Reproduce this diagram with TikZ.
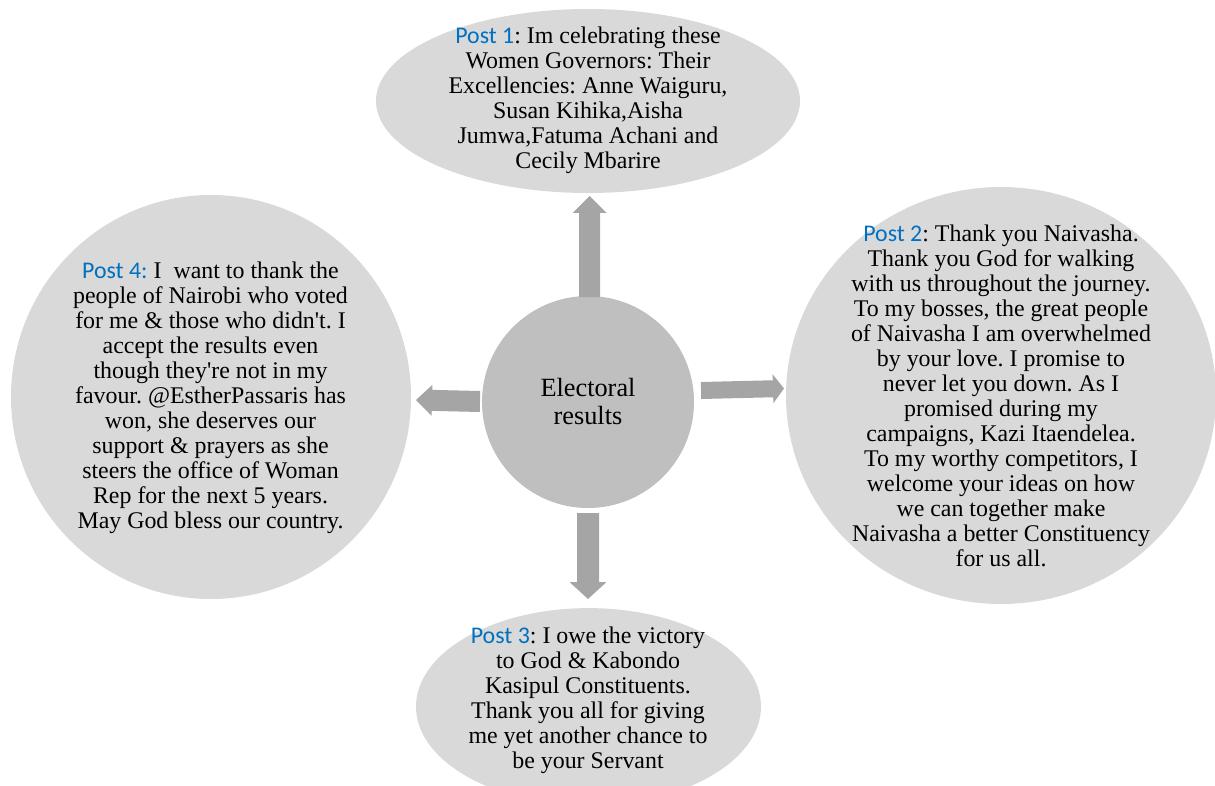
\documentclass[tikz,border=0pt]{standalone}
\usepackage{fontspec}
\setmainfont{Liberation Serif}
\newfontfamily\postfont{Carlito}
\usetikzlibrary{calc,shapes.geometric}
\frenchspacing

\definecolor{ovalgray}{HTML}{D9D9D9}
\definecolor{hubgray}{HTML}{BFBFBF}
\definecolor{arrowgray}{HTML}{A5A5A5}
\definecolor{postblue}{HTML}{0070C0}

% blue "Post n" heading inside a bubble
\newcommand\posthead[1]{{\postfont\color{postblue}#1}}

% block arrow from #1 to its tip #2; shaft width #3, head width #4, head length #5 (pt)
\newcommand\blockarrow[5]{%
  \fill[arrowgray] let \p1=(#1), \p2=(#2),
      \n1={atan2(\y2-\y1,\x2-\x1)}, \n2={veclen(\x2-\x1,\y2-\y1)} in
    ($(\p1)+({\n1+90}:{#3*0.5pt})$)
    -- ($(\p1)+(\n1:{\n2*1pt-#5*1pt})+({\n1+90}:{#3*0.5pt})$)
    -- ($(\p1)+(\n1:{\n2*1pt-#5*1pt})+({\n1+90}:{#4*0.5pt})$)
    -- (\p2)
    -- ($(\p1)+(\n1:{\n2*1pt-#5*1pt})+({\n1-90}:{#4*0.5pt})$)
    -- ($(\p1)+(\n1:{\n2*1pt-#5*1pt})+({\n1-90}:{#3*0.5pt})$)
    -- ($(\p1)+({\n1-90}:{#3*0.5pt})$)
    -- cycle;}

\tikzset{
  bubble/.style={ellipse, fill=ovalgray, inner sep=0pt},
  hub/.style={circle, fill=hubgray, inner sep=0pt, minimum size=212pt},
  bubbletext/.style={align=center, inner sep=0pt,
    font=\fontsize{23.9}{25}\selectfont},
  hubtext/.style={align=center, inner sep=0pt,
    font=\fontsize{26.3}{28}\selectfont},
}

\begin{document}
\begin{tikzpicture}[x=1pt, y=-1pt]
\useasboundingbox (0,0) rectangle (1215,786);

% bubbles
\node[bubble, minimum width=424pt, minimum height=184pt] (p1) at (588,101) {};
\node[bubble, minimum width=430pt, minimum height=417pt] (p2) at (1001,395.5) {};
\node[bubble, minimum width=345pt, minimum height=197pt] (p3) at (588.5,706.6) {};
\node[bubble, minimum width=400pt, minimum height=404pt] (p4) at (211,397) {};

% hub
\node[hub] (c) at (588,402) {};

% arrow ends
\coordinate (upS) at (589.5,297);  \coordinate (upT) at (589.5,196);
\coordinate (rtS) at (701,390.5);  \coordinate (rtT) at (784,388.5);
\coordinate (dnS) at (588,513);    \coordinate (dnT) at (588,599);
\coordinate (lfS) at (480,401.5);  \coordinate (lfT) at (416,400);

\blockarrow{upS}{upT}{21}{34}{17}
\blockarrow{rtS}{rtT}{17}{29}{11}
\blockarrow{dnS}{dnT}{22}{37}{17}
\blockarrow{lfS}{lfT}{21}{31}{16}

% texts
\node[hubtext] (ct) at (c) {Electoral\\results};

\node[bubbletext] (t1) at (588,100.5) {\posthead{Post 1}: Im celebrating these\\
Women Governors: Their\\
Excellencies: Anne Waiguru,\\
Susan Kihika,Aisha\\
Jumwa,Fatuma Achani and\\
Cecily Mbarire};

\node[bubbletext] (t2) at (1001,395.5) {\posthead{Post 2}: Thank you Naivasha.\\
Thank you God for walking\\
with us throughout the journey.\\
To my bosses, the great people\\
of Naivasha I am overwhelmed\\
by your love. I promise to\\
never let you down. As I\\
promised during my\\
campaigns, Kazi Itaendelea.\\
To my worthy competitors, I\\
welcome your ideas on how\\
we can together make\\
Naivasha a better Constituency\\
for us all.};

\node[bubbletext] (t3) at (588,700) {\posthead{Post 3}: I owe the victory\\
to God \& Kabondo\\
Kasipul Constituents.\\
Thank you all for giving\\
me yet another chance to\\
be your Servant};

\node[bubbletext] (t4) at (210.5,397.5) {\posthead{Post 4:} I\ \ want to thank the\\
people of Nairobi who voted\\
for me \& those who didn\textquotesingle t. I\\
accept the results even\\
though they\textquotesingle re not in my\\
favour. @EstherPassaris has\\
won, she deserves our\\
support \& prayers as she\\
steers the office of Woman\\
Rep for the next 5 years.\\
May God bless our country.};
\end{tikzpicture}
\end{document}
